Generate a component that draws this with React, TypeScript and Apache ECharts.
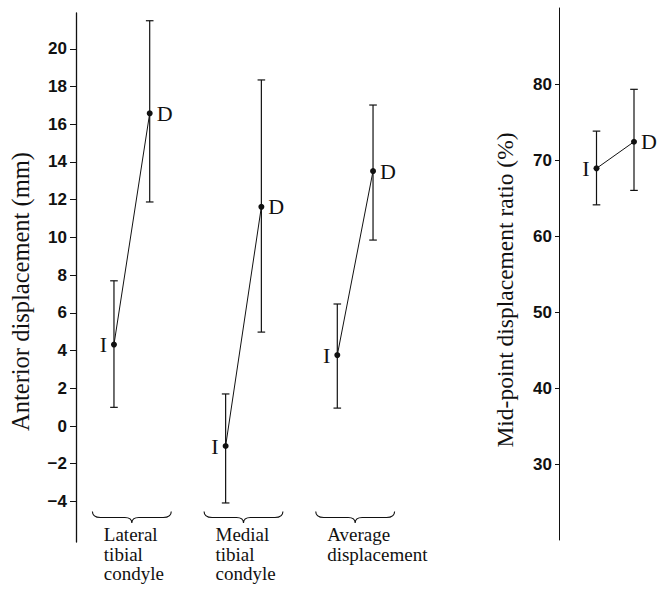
import React, { useEffect, useRef } from "react";
import * as echarts from "echarts";

// ---- data ----
const groups = ["Lateral\ntibial\ncondyle", "Medial\ntibial\ncondyle", "Average\ndisplacement"];
const iMean = [4.32, -1.06, 3.76];
const iLow = [0.99, -4.08, 0.95];
const iHigh = [7.7, 1.7, 6.47];
const dMean = [16.58, 11.62, 13.52];
const dLow = [11.88, 4.98, 9.86];
const dHigh = [21.49, 18.35, 17.02];

const ratioLabels = ["I", "D"];
const ratioMean = [68.9, 72.4];
const ratioLow = [64.1, 66.0];
const ratioHigh = [73.8, 79.3];

const leftTicks = [-4, -2, 0, 2, 4, 6, 8, 10, 12, 14, 16, 18, 20];
const rightTicks = [30, 40, 50, 60, 70, 80];

const LEFT_MIN = -6.15;
const LEFT_MAX = 21.9;
const RIGHT_MIN = 20;
const RIGHT_MAX = 90;
const OFF = 0.16;

const INK = "#111";
const SERIF = "Liberation Serif, serif";
const NARROW = "Liberation Sans Narrow, Liberation Sans, sans-serif";

const minus = (v: number) => (v < 0 ? "\u2212" + Math.abs(v) : String(v));

function errorBarRender(params: any, api: any) {
  const x = api.value(0);
  const lo = api.coord([x, api.value(1)]);
  const hi = api.coord([x, api.value(2)]);
  const cap = 3.8;
  const st = { stroke: INK, lineWidth: 1.2 };
  return {
    type: "group",
    children: [
      { type: "line", shape: { x1: lo[0], y1: lo[1], x2: hi[0], y2: hi[1] }, style: st },
      { type: "line", shape: { x1: lo[0] - cap, y1: lo[1], x2: lo[0] + cap, y2: lo[1] }, style: st },
      { type: "line", shape: { x1: hi[0] - cap, y1: hi[1], x2: hi[0] + cap, y2: hi[1] }, style: st },
    ],
  };
}

function braceRender(params: any, api: any) {
  const g = api.value(0);
  const name = groups[params.dataIndex];
  const base = api.coord([g, LEFT_MIN]);
  const left = api.coord([g - 0.353, LEFT_MIN])[0];
  const right = api.coord([g + 0.353, LEFT_MIN])[0];
  const c = base[0];
  const yb = base[1] - 24.5;
  const yt = yb - 6;
  const yp = yb + 5.5;
  const d =
    `M ${left} ${yt} Q ${left} ${yb} ${left + 8} ${yb} L ${c - 7} ${yb} Q ${c} ${yb} ${c} ${yp} ` +
    `Q ${c} ${yb} ${c + 7} ${yb} L ${right - 8} ${yb} Q ${right} ${yb} ${right} ${yt}`;
  return {
    type: "group",
    children: [
      { type: "path", shape: { pathData: d }, style: { fill: "none", stroke: INK, lineWidth: 1.1 } },
      {
        type: "text",
        x: c - 28,
        y: base[1] - 17,
        style: {
          text: name,
          fill: INK,
          fontFamily: SERIF,
          fontSize: 19,
          lineHeight: 19.5,
          align: "left",
          verticalAlign: "top",
        },
      },
    ],
  };
}

export default function App() {
  const ref = useRef<HTMLDivElement>(null);
  useEffect(() => {
    document.body.style.margin = "0";
    const chart = echarts.init(ref.current!, null, { renderer: "svg" });

    const pointLabel = (txt: string, pos: string) => ({
      show: true,
      formatter: txt,
      position: pos,
      distance: 4,
      color: INK,
      fontFamily: SERIF,
      fontSize: 22,
    });

    const groupLines = groups.map((_, i) => ({
      type: "line",
      xAxisIndex: 0,
      yAxisIndex: 0,
      symbol: "circle",
      symbolSize: 6,
      itemStyle: { color: INK },
      lineStyle: { color: INK, width: 1 },
      z: 3,
      data: [
        { value: [i + 1 - OFF, iMean[i]], label: pointLabel("I", "left") },
        { value: [i + 1 + OFF, dMean[i]], label: pointLabel("D", "right") },
      ],
    }));

    const leftBars: number[][] = [];
    groups.forEach((_, i) => {
      leftBars.push([i + 1 - OFF, iLow[i], iHigh[i]]);
      leftBars.push([i + 1 + OFF, dLow[i], dHigh[i]]);
    });
    const rightBars = ratioMean.map((_, i) => [i + 1, ratioLow[i], ratioHigh[i]]);

    const axisLabelStyle = {
      color: INK,
      fontFamily: NARROW,
      fontWeight: "bold",
      fontSize: 17,
    };

    chart.setOption({
      animation: false,
      backgroundColor: "#fff",
      textStyle: { fontFamily: SERIF },
      grid: [
        { left: 75, top: 13, width: 336, height: 529 },
        { left: 559, top: 8, width: 90, height: 532 },
      ],
      xAxis: [
        { type: "value", gridIndex: 0, min: 0.5, max: 3.5, show: false },
        { type: "value", gridIndex: 1, min: 0, max: 2.4, show: false },
      ],
      yAxis: [
        {
          type: "value",
          gridIndex: 0,
          min: LEFT_MIN,
          max: LEFT_MAX,
          axisLine: { show: true, lineStyle: { color: INK, width: 1.3 } },
          axisTick: { show: true, length: 6, customValues: leftTicks, lineStyle: { color: INK, width: 1 } },
          axisLabel: { customValues: leftTicks, formatter: minus, margin: 9, ...axisLabelStyle },
          splitLine: { show: false },
          name: "Anterior displacement (mm)",
          nameLocation: "middle",
          nameGap: 43,
          nameTextStyle: { color: INK, fontFamily: SERIF, fontSize: 24.5, padding: [0, 28, 0, 0] },
        },
        {
          type: "value",
          gridIndex: 1,
          min: RIGHT_MIN,
          max: RIGHT_MAX,
          axisLine: { show: true, lineStyle: { color: INK, width: 1 } },
          axisTick: { show: true, length: 4, customValues: rightTicks, lineStyle: { color: INK, width: 1 } },
          axisLabel: { customValues: rightTicks, formatter: minus, margin: 7, ...axisLabelStyle },
          splitLine: { show: false },
          name: "Mid-point displacement ratio (%)",
          nameLocation: "middle",
          nameGap: 42,
          nameTextStyle: { color: INK, fontFamily: SERIF, fontSize: 23.5, padding: [0, 32, 0, 0] },
        },
      ],
      series: [
        {
          type: "custom",
          xAxisIndex: 0,
          yAxisIndex: 0,
          renderItem: errorBarRender,
          data: leftBars,
          z: 2,
        },
        ...groupLines,
        {
          type: "custom",
          xAxisIndex: 0,
          yAxisIndex: 0,
          renderItem: braceRender,
          clip: false,
          data: groups.map((_, i) => [i + 1, LEFT_MIN]),
        },
        {
          type: "custom",
          xAxisIndex: 1,
          yAxisIndex: 1,
          renderItem: errorBarRender,
          data: rightBars,
          z: 2,
        },
        {
          type: "line",
          xAxisIndex: 1,
          yAxisIndex: 1,
          symbol: "circle",
          symbolSize: 6,
          itemStyle: { color: INK },
          lineStyle: { color: INK, width: 1 },
          z: 3,
          data: ratioMean.map((v, i) => ({
            value: [i + 1, v],
            label: pointLabel(ratioLabels[i], i === 0 ? "left" : "right"),
          })),
        },
      ],
    });
    return () => chart.dispose();
  }, []);
  return <div ref={ref} style={{ width: 658, height: 591 }} />;
}
